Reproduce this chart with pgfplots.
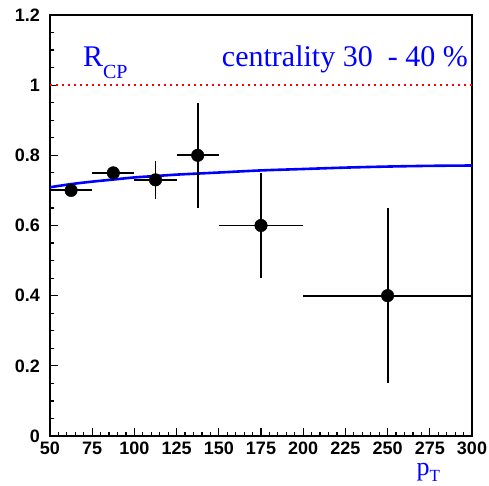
\documentclass[border=0pt]{standalone}
\usepackage{pgfplots}
\pgfplotsset{compat=1.18}
\usepackage{fontspec}
\setmainfont{Liberation Sans}
\newfontfamily\seriffont{Liberation Serif}
\definecolor{rootblue}{RGB}{0,0,255}
\definecolor{rootred}{RGB}{255,0,0}
\begin{document}
\begin{tikzpicture}
\begin{axis}[
    scale only axis,
    width=422pt, height=421pt,
    xmin=50, xmax=300, ymin=0, ymax=1.2,
    xtick={50,75,...,300},
    ytick={0,0.2,0.4,0.6,0.8,1,1.2},
    yticklabels={0,0.2,0.4,0.6,0.8,1,1.2},
    minor x tick num=4,
    minor y tick num=3,
    tick align=inside,
    xtick pos=bottom, ytick pos=left,
    major tick length=8pt, minor tick length=4pt,
    tick style={black, line width=1.2pt},
    axis line style={line width=1.6pt},
    /pgf/number format/assume math mode=true,
    tick label style={font=\fontsize{18}{20}\selectfont\bfseries, inner sep=0pt},
    xticklabel style={yshift=-6pt},
    yticklabel style={xshift=-10pt},
    clip=false,
]
% red dotted reference line at 1
\addplot[rootred, line width=2.2pt, dash pattern=on 2.2pt off 3.8pt] coordinates {(50,1) (300,1)};
% blue curve
\addplot[rootblue, line width=2.6pt, smooth] coordinates {
    (50,0.709) (62.5,0.718) (75,0.725) (87.5,0.731) (100,0.737)
    (112.5,0.741) (125,0.745) (137.5,0.748) (150,0.751) (175,0.757)
    (200,0.761) (225,0.765) (250,0.768) (275,0.770) (300,0.771)
};
% data points
\addplot[black, only marks, mark=*, mark size=6.3pt,
    error bars/.cd, x dir=both, x explicit, y dir=both, y explicit,
    error mark=none, error bar style={line width=1.9pt, black}]
coordinates {
    (62.5,0.70) +- (12.5,0)
    (87.5,0.75) +- (12.5,0)
    (112.5,0.73) +- (12.5,0.055)
    (137.5,0.80) +- (12.5,0.15)
    (175,0.60) +- (25,0.15)
    (250,0.40) +- (50,0.25)
};
\node[rootblue, anchor=base west, inner sep=0pt, font=\seriffont\fontsize{30}{32}\selectfont] at (axis cs:69.5,1.054) {R\raisebox{-12pt}{\fontsize{20}{22}\selectfont CP}};
\node[rootblue, anchor=base east, inner sep=0pt, font=\seriffont\fontsize{30}{32}\selectfont] at (axis cs:297.6,1.054) {centrality 30\ \ - 40 \%};
\node[rootblue, anchor=base west, inner sep=0pt, font=\seriffont\fontsize{26}{27}\selectfont] at (axis cs:267,-0.113) {p\raisebox{-6pt}{\fontsize{17}{18}\selectfont T}};
\end{axis}
\path ([xshift=-50pt,yshift=-50pt]current axis.south west) rectangle ([xshift=17pt,yshift=15pt]current axis.north east);
\end{tikzpicture}
\end{document}
